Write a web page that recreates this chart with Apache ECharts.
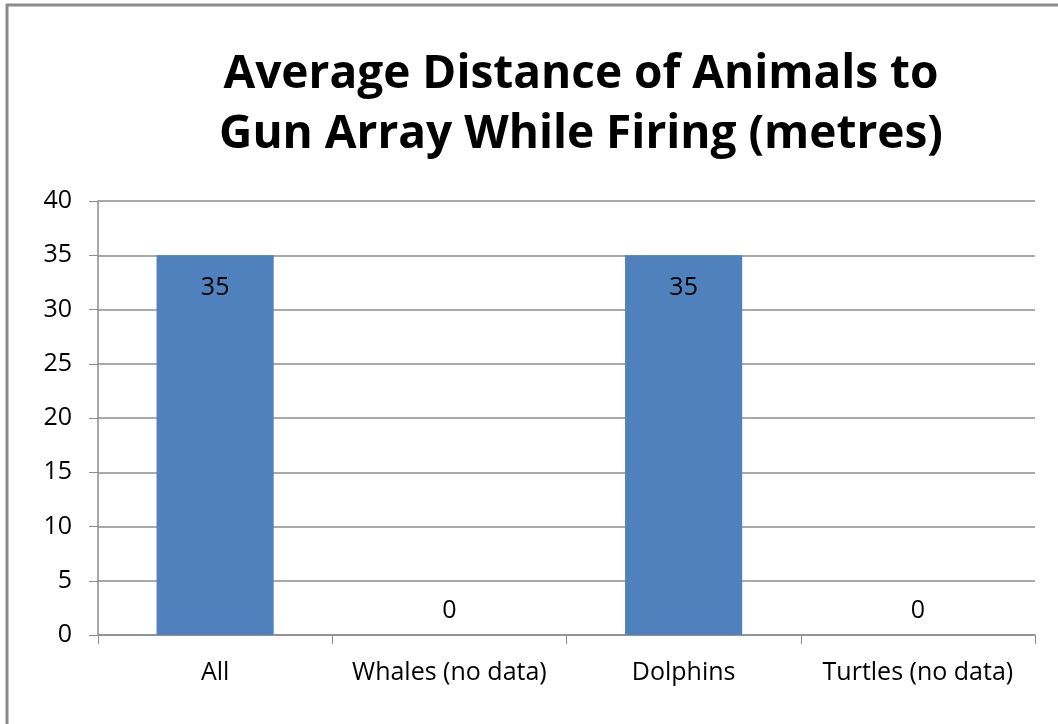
<!DOCTYPE html>
<html>
<head>
<meta charset="utf-8">
<script src="https://cdn.jsdelivr.net/npm/echarts@6/dist/echarts.min.js"></script>
<style>
html, body { margin: 0; padding: 0; background: #fff; }
#chart { width: 1058px; height: 724px; }
</style>
</head>
<body>
<div id="chart"></div>
<script>
// Chart content
const titleText = 'Average Distance of Animals to\nGun Array While Firing (metres)';
const categories = ['All', 'Whales (no data)', 'Dolphins', 'Turtles (no data)'];
const distances = [35, 0, 35, 0];
const yTicks = { min: 0, max: 40, interval: 5 };

const chart = echarts.init(document.getElementById('chart'));
const font = '"Open Sans", "Noto Sans", sans-serif';

chart.setOption({
  backgroundColor: '#fff',
  animation: false,
  title: {
    text: titleText,
    left: 576,
    top: 40,
    textAlign: 'center',
    textStyle: {
      fontFamily: font,
      fontWeight: 'bold',
      fontSize: 46,
      lineHeight: 60,
      color: '#000'
    }
  },
  graphic: [
    { type: 'line', shape: { x1: 6, y1: 5, x2: 1058, y2: 5 }, style: { stroke: '#8a8a8a', lineWidth: 3 } },
    { type: 'line', shape: { x1: 7, y1: 4, x2: 7, y2: 724 }, style: { stroke: '#8a8a8a', lineWidth: 3 } }
  ],
  grid: { left: 98, right: 23, top: 201, bottom: 89 },
  xAxis: {
    type: 'category',
    data: categories,
    axisLine: { lineStyle: { color: '#8c8c8c', width: 1.5 } },
    axisTick: { show: true, length: 9, alignWithLabel: false, lineStyle: { color: '#8c8c8c' } },
    axisLabel: { interval: 0, hideOverlap: false, margin: 25, fontFamily: font, fontSize: 25, color: '#000' },
    splitLine: { show: false }
  },
  yAxis: {
    type: 'value',
    min: yTicks.min,
    max: yTicks.max,
    interval: yTicks.interval,
    axisLine: { show: true, lineStyle: { color: '#8c8c8c', width: 1.5 } },
    axisTick: { show: true, length: 9, lineStyle: { color: '#8c8c8c' } },
    axisLabel: { margin: 26, fontFamily: font, fontSize: 25, color: '#000' },
    splitLine: { show: true, lineStyle: { color: '#8c8c8c', width: 1.5 } }
  },
  series: [{
    type: 'bar',
    data: distances.map(v => v === 0
      // zero-height bars carry their label above the baseline
      ? { value: v, label: { position: 'top', distance: 12 } }
      : v),
    barWidth: '50%',
    itemStyle: { color: '#4f81bd' },
    label: {
      show: true,
      fontFamily: font,
      fontSize: 25,
      color: '#000',
      position: 'insideTop',
      distance: 20
    }
  }]
});
</script>
</body>
</html>
